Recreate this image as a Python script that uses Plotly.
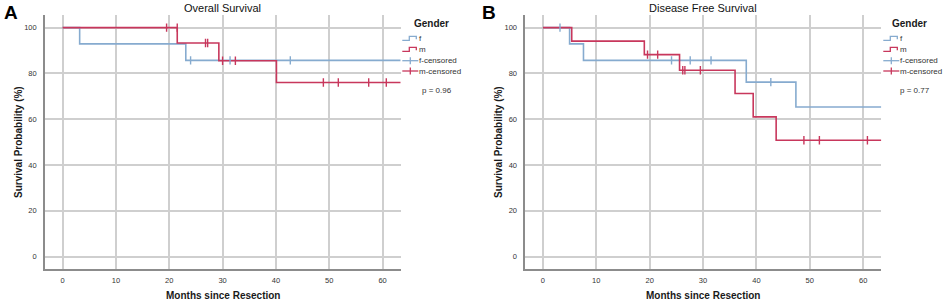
import plotly.graph_objects as go

# ---------------- data ----------------
# Panel A: Overall Survival
A_f_time = [0, 3.2, 23.1, 63.4]
A_f_surv = [100, 92.9, 85.7, 85.7]
A_f_cens_time = [24.0, 31.4, 42.7]
A_f_cens_surv = [85.7, 85.7, 85.7]

A_m_time = [0, 21.5, 29.3, 40.1, 63.4]
A_m_surv = [100, 93.3, 85.5, 76.0, 76.0]
A_m_cens_time = [19.5, 21.5, 26.8, 27.2, 30.0, 32.4, 48.9, 51.7, 57.4, 60.7]
A_m_cens_surv = [100, 100, 93.3, 93.3, 85.5, 85.5, 76.0, 76.0, 76.0, 76.0]

# Panel B: Disease Free Survival
B_f_time = [0, 5.0, 7.6, 38.1, 47.4, 63.4]
B_f_surv = [100, 92.9, 85.7, 76.2, 65.3, 65.3]
B_f_cens_time = [3.2, 24.1, 27.6, 31.5, 42.7]
B_f_cens_surv = [100, 85.7, 85.7, 85.7, 76.2]

B_m_time = [0, 5.4, 19.0, 25.6, 36.0, 39.4, 43.7, 63.4]
B_m_surv = [100, 94.1, 88.2, 81.4, 71.2, 61.0, 50.8, 50.8]
B_m_cens_time = [19.6, 21.5, 26.2, 26.6, 29.5, 48.9, 51.8, 60.8]
B_m_cens_surv = [88.2, 88.2, 81.4, 81.4, 81.4, 50.8, 50.8, 50.8]

panel_titles = ["Overall Survival", "Disease Free Survival"]
panel_letters = ["A", "B"]
p_values = ["p = 0.96", "p = 0.77"]
legend_title = "Gender"
legend_labels = ["f", "m", "f-censored", "m-censored"]
x_ticks = [0, 10, 20, 30, 40, 50, 60]
y_ticks = [0, 20, 40, 60, 80, 100]

# ---------------- style ----------------
W, H = 945, 303
BLUE = "#86abcf"
RED = "#c8375c"
GRID = "#cfcfcf"
AXIS = "#8c8c8c"
FONT = "Liberation Sans, Arial, sans-serif"

def px(x):
    return x / W

def py(y):
    return 1 - y / H

fig = go.Figure()

panels = [
    dict(f=(A_f_time, A_f_surv, A_f_cens_time, A_f_cens_surv),
         m=(A_m_time, A_m_surv, A_m_cens_time, A_m_cens_surv),
         xa="x", ya="y", left=45.0, right=400.7),
    dict(f=(B_f_time, B_f_surv, B_f_cens_time, B_f_cens_surv),
         m=(B_m_time, B_m_surv, B_m_cens_time, B_m_cens_surv),
         xa="x2", ya="y2", left=525.3, right=881.3),
]

for p in panels:
    for key, col in (("f", BLUE), ("m", RED)):
        t, s, ct, cs = p[key]
        fig.add_trace(go.Scatter(x=t, y=s, mode="lines", line=dict(color=col, width=1.6, shape="hv"),
                                 xaxis=p["xa"], yaxis=p["ya"], showlegend=False, name=key))
    for key, col in (("f", BLUE), ("m", RED)):
        t, s, ct, cs = p[key]
        fig.add_trace(go.Scatter(x=ct, y=cs, mode="markers",
                                 marker=dict(symbol="line-ns", size=6, line=dict(color=col, width=1.4)),
                                 xaxis=p["xa"], yaxis=p["ya"], showlegend=False, name=key + "-censored"))

top, bottom = 15.0, 269.0
axis_common = dict(showgrid=True, gridcolor=GRID, gridwidth=1.5, zeroline=False,
                   showline=True, linecolor=AXIS, linewidth=1.6, ticks="",
                   tickfont=dict(size=7.5, color="#333", family=FONT))
layout_axes = {}
for i, p in enumerate(panels):
    sfx = "" if i == 0 else "2"
    layout_axes["xaxis" + sfx] = dict(axis_common, domain=[px(p["left"]), px(p["right"])],
                                      range=[-3.3, 63.4], tickvals=x_ticks,
                                      anchor="y" + sfx, ticklabelstandoff=3)
    layout_axes["yaxis" + sfx] = dict(axis_common, domain=[py(bottom), py(top)],
                                      range=[-5.4, 105.5], tickvals=y_ticks,
                                      anchor="x" + sfx, ticklabelstandoff=5)

annotations = []
shapes = []
leg_x0 = [402.3, 883.3]
gender_x = [431.7, 909.0]
pval_x = [436.7, 915.0]
letter_x = [11.0, 489.0]
ytitle_x = [18.0, 498.0]
entry_y = [38.3, 49.3, 60.7, 71.0]


def note(text, x, y, size, color="#1a1a1a", xanchor="center", angle=0):
    return dict(text=text, x=px(x), y=py(y), xref="paper", yref="paper", showarrow=False,
                xanchor=xanchor, yanchor="middle", textangle=angle,
                font=dict(size=size, color=color, family=FONT))


for i, p in enumerate(panels):
    cx = (p["left"] + p["right"]) / 2
    annotations.append(note(panel_titles[i], cx, 7.5, 11, "#111"))
    annotations.append(note("<b>%s</b>" % panel_letters[i], letter_x[i], 12.5, 19, "#000"))
    annotations.append(note("<b>Months since Resection</b>", cx, 295, 10))
    annotations.append(note("<b>Survival Probability (%)</b>", ytitle_x[i], 142, 10, angle=-90))
    annotations.append(note("<b>%s</b>" % legend_title, gender_x[i], 24, 10))
    annotations.append(note(p_values[i], pval_x[i], 91, 8, "#333"))
    x0 = leg_x0[i]
    for j, lab in enumerate(legend_labels):
        yy = entry_y[j]
        col = BLUE if j % 2 == 0 else RED
        annotations.append(note(lab, x0 + 15, yy, 8, "#333", xanchor="left"))
        if j < 2:
            path = "M %f,%f L %f,%f L %f,%f L %f,%f L %f,%f" % (
                px(x0), py(yy + 2), px(x0 + 7), py(yy + 2), px(x0 + 7), py(yy - 2),
                px(x0 + 14), py(yy - 2), px(x0 + 14), py(yy + 1))
            shapes.append(dict(type="path", path=path, xref="paper", yref="paper",
                               line=dict(color=col, width=1.3)))
        else:
            shapes.append(dict(type="line", x0=px(x0), x1=px(x0 + 16), y0=py(yy), y1=py(yy),
                               xref="paper", yref="paper", line=dict(color=col, width=1.3)))
            shapes.append(dict(type="line", x0=px(x0 + 8), x1=px(x0 + 8), y0=py(yy - 3.5), y1=py(yy + 3.5),
                               xref="paper", yref="paper", line=dict(color=col, width=1.3)))

fig.update_layout(width=W, height=H, margin=dict(l=0, r=0, t=0, b=0),
                  paper_bgcolor="white", plot_bgcolor="white", showlegend=False,
                  annotations=annotations, shapes=shapes, **layout_axes)

fig.write_html("out.html", config={"displayModeBar": False},
               post_script="document.body.style.margin='0px';document.body.style.overflow='hidden';")
